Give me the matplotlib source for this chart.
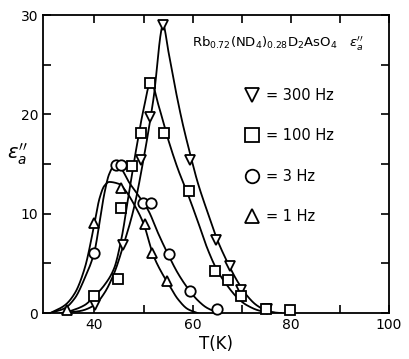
import numpy as np
import matplotlib
matplotlib.use("Agg")
import matplotlib.pyplot as plt

# ---- measured points ----
t_300 = [40.1, 45.8, 49.4, 51.4, 53.9, 59.5, 64.8, 67.7, 69.8, 75.1]
e_300 = [0.8, 6.9, 15.4, 19.7, 29.0, 15.4, 7.4, 4.7, 2.3, 0.4]

t_100 = [39.9, 44.8, 45.4, 47.7, 49.4, 51.4, 54.1, 59.3, 64.5, 67.3, 69.8, 74.9, 79.8]
e_100 = [1.7, 3.4, 10.6, 14.8, 18.1, 23.2, 18.1, 12.3, 4.2, 3.3, 1.7, 0.4, 0.3]

t_3 = [39.9, 44.3, 45.4, 49.8, 51.6, 55.1, 59.5, 64.9]
e_3 = [6.0, 14.9, 14.9, 11.1, 11.1, 5.9, 2.2, 0.4]

t_1 = [34.5, 39.9, 45.4, 50.2, 51.8, 54.8]
e_1 = [0.3, 9.1, 12.6, 9.0, 6.0, 3.2]

# ---- fitted curves ----
ct_300 = [33, 37, 40, 42, 44, 46, 48, 50, 52, 54, 55, 56, 57, 58, 59.5, 61, 63, 65, 67, 69, 71, 73, 75, 77]
ce_300 = [0, 0.2, 0.8, 2.0, 4.0, 7.0, 10.5, 15.5, 21.5, 29.0, 26.5, 23.8, 21.3, 19.0, 16.0, 13.2, 10.2, 7.4, 5.2, 3.3, 1.8, 0.8, 0.25, 0]

ct_100 = [34, 38, 40, 42, 44, 45.5, 47, 48.5, 50, 51.5, 53, 55, 57, 59, 61, 63, 65, 67, 69, 71, 74, 78]
ce_100 = [0, 0.8, 1.7, 2.8, 4.5, 7.5, 12.0, 16.5, 20.5, 23.3, 21.0, 17.5, 14.5, 12.0, 9.3, 6.5, 4.3, 2.8, 1.6, 0.8, 0.2, 0]

ct_3 = [31, 34, 36, 38, 40, 41, 42, 43, 44.3, 45.5, 47, 49, 51, 53, 55, 57, 59, 61, 63, 65, 66]
ce_3 = [0, 0.5, 1.5, 3.5, 6.2, 9.0, 12.0, 14.0, 15.0, 14.5, 13.2, 11.8, 10.3, 8.0, 5.9, 4.0, 2.5, 1.3, 0.5, 0.1, 0]

ct_1 = [31, 34, 36, 38, 40, 41, 42, 43, 45, 46.5, 48, 50, 52, 54, 55, 57, 59, 61]
ce_1 = [0, 0.8, 2.0, 4.5, 9.0, 11.5, 12.8, 13.2, 13.0, 12.2, 11.0, 9.0, 5.8, 3.8, 3.0, 1.4, 0.4, 0]

labels = ["= 300 Hz", "= 100 Hz", "= 3 Hz", "= 1 Hz"]
markers = ["v", "s", "o", "^"]

xticks = [40, 60, 80, 100]
yticks = [0, 10, 20, 30]


def pchip(x, y, n=400):
    """Shape-preserving cubic Hermite curve through the read curve samples (display only)."""
    x = np.asarray(x, float); y = np.asarray(y, float)
    h = np.diff(x); d = np.diff(y) / h
    m = np.zeros_like(y)
    for k in range(1, len(x) - 1):
        if d[k - 1] * d[k] > 0:
            w1 = 2 * h[k] + h[k - 1]; w2 = h[k] + 2 * h[k - 1]
            m[k] = (w1 + w2) / (w1 / d[k - 1] + w2 / d[k])
    m[0] = d[0]; m[-1] = d[-1]
    xs = np.linspace(x[0], x[-1], n)
    idx = np.clip(np.searchsorted(x, xs) - 1, 0, len(h) - 1)
    t = (xs - x[idx]) / h[idx]
    h00 = 2 * t**3 - 3 * t**2 + 1; h10 = t**3 - 2 * t**2 + t
    h01 = -2 * t**3 + 3 * t**2; h11 = t**3 - t**2
    ys = h00 * y[idx] + h10 * h[idx] * m[idx] + h01 * y[idx + 1] + h11 * h[idx] * m[idx + 1]
    return xs, ys


fig = plt.figure(figsize=(4.09, 3.59), dpi=100)
ax = fig.add_axes([0.105, 0.128, 0.846, 0.83])

for ct, ce in [(ct_300, ce_300), (ct_100, ce_100), (ct_3, ce_3), (ct_1, ce_1)]:
    xs, ys = pchip(ct, ce)
    ax.plot(xs, np.clip(ys, 0, None), color="black", lw=1.3, zorder=2)

handles = []
for (t, e), m, lab in zip([(t_300, e_300), (t_100, e_100), (t_3, e_3), (t_1, e_1)], markers, labels):
    h, = ax.plot(t, e, linestyle="none", marker=m, markersize=7.5, markerfacecolor="white",
                 markeredgecolor="black", markeredgewidth=1.3, label=lab, zorder=3, clip_on=False)
    handles.append(h)

ax.set_xlim(29.5, 100)
ax.set_ylim(0, 30)
ax.set_xticks(xticks)
ax.set_yticks(yticks)
ax.set_xticks([50, 70, 90], minor=True)
ax.set_yticks([5, 15, 25], minor=True)
ax.tick_params(which="both", direction="in", length=6, width=1.2, top=True, right=True, labelsize=10)
for s in ax.spines.values():
    s.set_linewidth(1.3)

ax.set_xlabel("T(K)", fontsize=12, labelpad=2)
ax.set_ylabel(r"$\epsilon_a''$", fontsize=14, rotation=0, labelpad=8)
ax.yaxis.set_label_coords(-0.075, 0.49)

ax.text(0.43, 0.905, r"Rb$_{0.72}$(ND$_4$)$_{0.28}$D$_2$AsO$_4$   $\epsilon_a''$",
        transform=ax.transAxes, fontsize=9.5, ha="left", va="center")

leg = ax.legend(handles=handles, loc="upper left", bbox_to_anchor=(0.54, 0.80), frameon=False,
                fontsize=10.5, handletextpad=0.4, labelspacing=1.75, handlelength=1.2,
                markerscale=1.3)

fig.savefig("out.png", dpi=100)
